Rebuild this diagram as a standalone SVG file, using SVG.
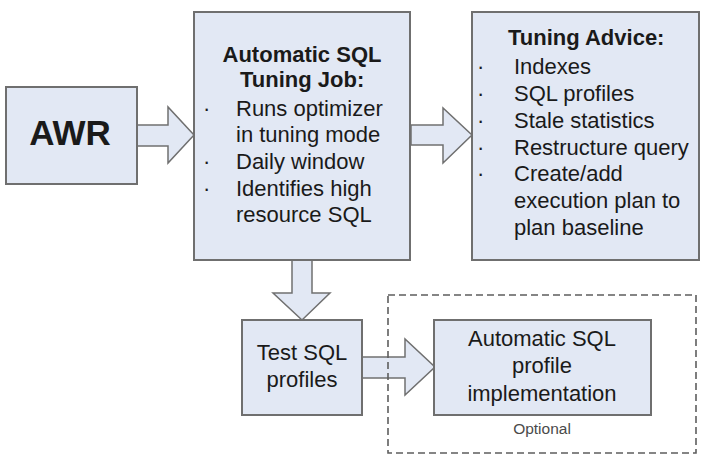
<svg xmlns="http://www.w3.org/2000/svg" width="701" height="456" viewBox="0 0 701 456">
  <style>
    .box { fill: #e2e8f4; stroke: #6f6f6f; stroke-width: 2; }
    .arrow { fill: #e2e8f4; stroke: #707070; stroke-width: 1.5; stroke-linejoin: miter; }
    .zone { fill: none; stroke: #5e5e5e; stroke-width: 1.6; stroke-dasharray: 7 4; }
    text { font-family: "Liberation Sans", Arial, sans-serif; fill: #1a1a1a; }
    .t { font-size: 22px; }
    .b { font-size: 22px; font-weight: bold; }
    .big { font-size: 35px; font-weight: bold; }
    .dot { font-size: 22px; }
    .note { font-size: 15.5px; fill: #4a4a4a; }
    .c { text-anchor: middle; }
  </style>

  <rect width="701" height="456" fill="#ffffff"/>

  <!-- block arrows between the stages -->
  <g id="connectors">
    <polygon class="arrow" points="137,125 168,125 168,107 194,135 168,163 168,146 137,146"/>
    <polygon class="arrow" points="411,125 443,125 443,108 472,135 443,163 443,145 411,145"/>
    <polygon class="arrow" points="292,260 312,260 312,293 330,293 302,320 273,293 292,293"/>
    <polygon class="arrow" points="362,357 405,357 405,339 435,367 405,395 405,378 362,378"/>
  </g>

  <g id="awr">
    <rect class="box" x="6" y="87" width="131" height="97"/>
    <text class="big c" x="70" y="145">AWR</text>
  </g>

  <g id="tuning-job">
    <rect class="box" x="194" y="12" width="216" height="248"/>
    <text class="b c" x="302" y="62">Automatic SQL</text>
    <text class="b" x="240" y="87">Tuning Job:</text>
    <text class="dot" x="203" y="116">·</text>
    <text class="t" x="236" y="116">Runs optimizer</text>
    <text class="t" x="236" y="142">in tuning mode</text>
    <text class="dot" x="203" y="169">·</text>
    <text class="t" x="236" y="169">Daily window</text>
    <text class="dot" x="203" y="196">·</text>
    <text class="t" x="236" y="196">Identifies high</text>
    <text class="t" x="236" y="222">resource SQL</text>
  </g>

  <g id="tuning-advice">
    <rect class="box" x="472" y="12" width="227" height="248"/>
    <text class="b" x="508" y="45">Tuning Advice:</text>
    <text class="dot" x="477" y="74">·</text>
    <text class="t" x="514" y="74">Indexes</text>
    <text class="dot" x="477" y="101">·</text>
    <text class="t" x="514" y="101">SQL profiles</text>
    <text class="dot" x="477" y="128">·</text>
    <text class="t" x="514" y="128">Stale statistics</text>
    <text class="dot" x="477" y="155">·</text>
    <text class="t" x="514" y="155">Restructure query</text>
    <text class="dot" x="477" y="181">·</text>
    <text class="t" x="514" y="181">Create/add</text>
    <text class="t" x="514" y="208">execution plan to</text>
    <text class="t" x="514" y="235">plan baseline</text>
  </g>

  <g id="test-profiles">
    <rect class="box" x="242" y="320" width="120" height="95"/>
    <text class="t c" x="302" y="360">Test SQL</text>
    <text class="t c" x="302" y="387">profiles</text>
  </g>

  <g id="profile-implementation">
    <rect class="box" x="434" y="320" width="217" height="95"/>
    <text class="t c" x="542" y="346">Automatic SQL</text>
    <text class="t c" x="542" y="373">profile</text>
    <text class="t c" x="542" y="401">implementation</text>
  </g>

  <g id="optional-zone">
    <rect class="zone" x="388" y="295" width="308" height="158"/>
    <text class="note c" x="542" y="434">Optional</text>
  </g>
</svg>
